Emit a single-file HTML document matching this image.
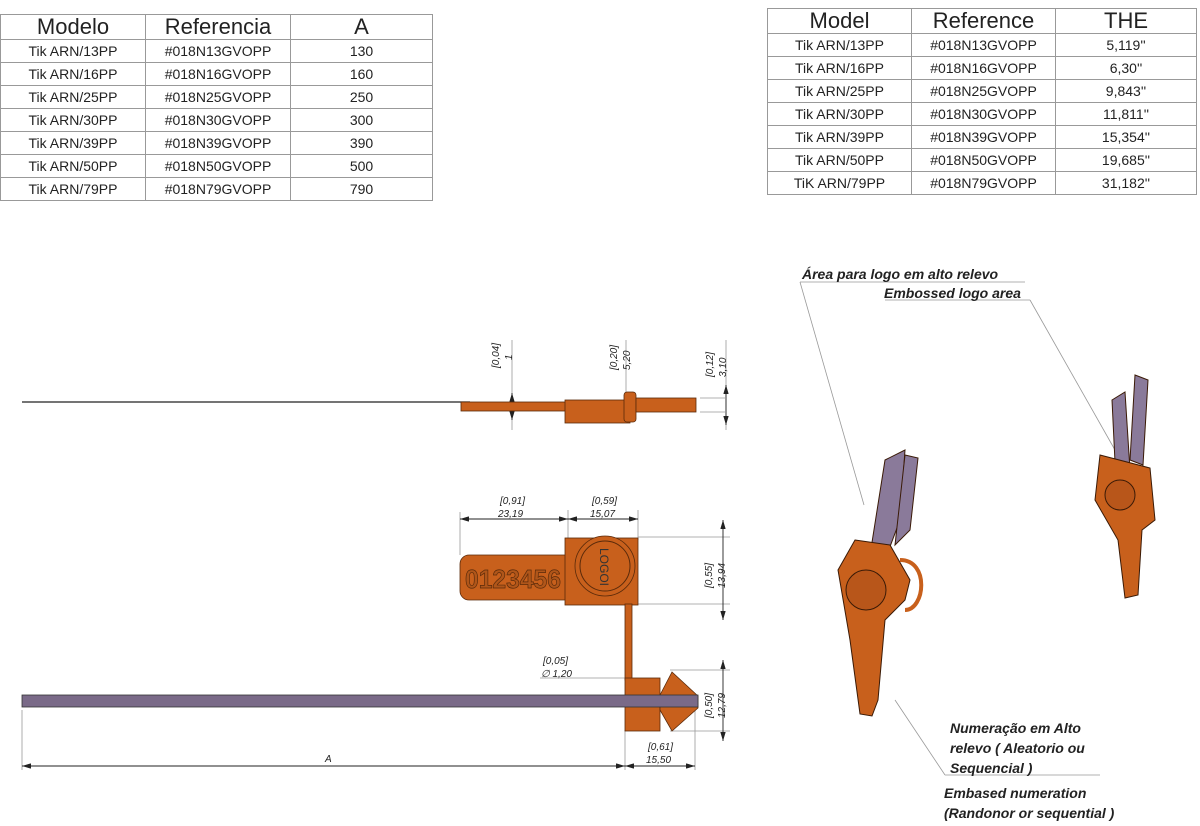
<!DOCTYPE html><html><head><meta charset="utf-8"><style>
body{margin:0;background:#fff;width:1200px;height:826px;overflow:hidden;font-family:"Liberation Sans",sans-serif}
table{position:absolute;border-collapse:collapse;table-layout:fixed}
td{border:1px solid #999;text-align:center;font-size:14px;padding:0;color:#222;height:22px;line-height:20px}
tr.h td{font-size:22px;height:24px;line-height:24px;color:#222}
</style></head><body>
<table style="left:0;top:14px;width:433px"><colgroup><col style="width:145px"><col style="width:145px"><col></colgroup>
<tr class="h"><td>Modelo</td><td>Referencia</td><td>A</td></tr>
<tr><td>Tik ARN/13PP</td><td>#018N13GVOPP</td><td>130</td></tr>
<tr><td>Tik ARN/16PP</td><td>#018N16GVOPP</td><td>160</td></tr>
<tr><td>Tik ARN/25PP</td><td>#018N25GVOPP</td><td>250</td></tr>
<tr><td>Tik ARN/30PP</td><td>#018N30GVOPP</td><td>300</td></tr>
<tr><td>Tik ARN/39PP</td><td>#018N39GVOPP</td><td>390</td></tr>
<tr><td>Tik ARN/50PP</td><td>#018N50GVOPP</td><td>500</td></tr>
<tr><td>Tik ARN/79PP</td><td>#018N79GVOPP</td><td>790</td></tr>
</table>
<table style="left:767px;top:8px;width:430px"><colgroup><col style="width:144px"><col style="width:144px"><col></colgroup>
<tr class="h"><td>Model</td><td>Reference</td><td>THE</td></tr>
<tr><td>Tik ARN/13PP</td><td>#018N13GVOPP</td><td>5,119''</td></tr>
<tr><td>Tik ARN/16PP</td><td>#018N16GVOPP</td><td>6,30''</td></tr>
<tr><td>Tik ARN/25PP</td><td>#018N25GVOPP</td><td>9,843''</td></tr>
<tr><td>Tik ARN/30PP</td><td>#018N30GVOPP</td><td>11,811''</td></tr>
<tr><td>Tik ARN/39PP</td><td>#018N39GVOPP</td><td>15,354''</td></tr>
<tr><td>Tik ARN/50PP</td><td>#018N50GVOPP</td><td>19,685''</td></tr>
<tr><td>TiK ARN/79PP</td><td>#018N79GVOPP</td><td>31,182''</td></tr>
</table>
<svg width="1200" height="826" style="position:absolute;left:0;top:0" font-family="Liberation Sans" font-style="italic" font-size="10" fill="#222">
<defs><marker id="a" viewBox="0 0 10 6" refX="10" refY="3" markerWidth="10" markerHeight="6" orient="auto-start-reverse"><path d="M0,0L10,3L0,6z" fill="#222"/></marker></defs>
<g stroke="#999" stroke-width="0.8" fill="none">
<line x1="512" y1="340" x2="512" y2="430"/><line x1="626" y1="340" x2="626" y2="395"/>
<line x1="700" y1="398" x2="725" y2="398"/><line x1="700" y1="412" x2="725" y2="412"/><line x1="726" y1="340" x2="726" y2="430"/>
<line x1="460" y1="512" x2="460" y2="555"/><line x1="568" y1="510" x2="568" y2="540"/><line x1="638" y1="510" x2="638" y2="540"/>
<line x1="638" y1="537" x2="730" y2="537"/><line x1="620" y1="604" x2="730" y2="604"/>
<line x1="540" y1="678" x2="625" y2="678"/><line x1="670" y1="670" x2="730" y2="670"/><line x1="670" y1="731" x2="730" y2="731"/>
<line x1="625" y1="730" x2="625" y2="770"/><line x1="695" y1="700" x2="695" y2="770"/><line x1="22" y1="710" x2="22" y2="770"/>
<line x1="800" y1="282" x2="864" y2="505"/><line x1="800" y1="282" x2="1025" y2="282"/>
<line x1="1030" y1="300" x2="1115" y2="450"/><line x1="885" y1="300" x2="1030" y2="300"/>
<line x1="895" y1="700" x2="945" y2="775"/><line x1="945" y1="775" x2="1100" y2="775"/>
</g>
<g stroke="#222" stroke-width="0.9" marker-start="url(#a)" marker-end="url(#a)">
<line x1="512" y1="393" x2="512" y2="420"/><line x1="726" y1="385" x2="726" y2="425"/>
<line x1="460" y1="519" x2="568" y2="519"/><line x1="568" y1="519" x2="638" y2="519"/>
<line x1="723" y1="520" x2="723" y2="620"/><line x1="723" y1="660" x2="723" y2="741"/>
<line x1="22" y1="766" x2="625" y2="766"/><line x1="625" y1="766" x2="695" y2="766"/>
</g>
<line x1="22" y1="402" x2="470" y2="402" stroke="#222" stroke-width="1.3"/>
<g fill="#c8601c" stroke="#5a2a0a" stroke-width="0.8">
<rect x="461" y="402" width="110" height="9"/><rect x="565" y="400" width="65" height="23"/>
<rect x="624" y="392" width="12" height="30" rx="3"/><rect x="636" y="398" width="60" height="14"/>
</g>
<g fill="#c8601c" stroke="#5a2a0a" stroke-width="0.8">
<rect x="460" y="555" width="125" height="45" rx="9"/>
<rect x="565" y="538" width="73" height="67"/>
<circle cx="605" cy="566" r="30"/>
<rect x="625" y="604" width="7" height="76"/>
<rect x="625" y="678" width="35" height="53"/>
<path d="M660,695L672,672L698,696L698,708L672,731L660,710z"/>
</g>
<circle cx="605" cy="566" r="25" fill="none" stroke="#5a2a0a"/>
<text x="465" y="588" font-size="26" font-style="normal" font-weight="bold" fill="#b0561a" stroke="#5a2a0a" stroke-width="0.7" textLength="96" lengthAdjust="spacingAndGlyphs">0123456</text>
<text transform="translate(600,548) rotate(90)" font-size="12" font-style="normal" fill="#333">LOGOI</text>
<rect x="22" y="695" width="676" height="12" fill="#7a6a88" stroke="#333" stroke-width="0.8"/>
<text transform="translate(499,368) rotate(-90)">[0,04]</text><text transform="translate(512,360) rotate(-90)">1</text>
<text transform="translate(617,370) rotate(-90)">[0,20]</text><text transform="translate(630,370) rotate(-90)">5,20</text>
<text transform="translate(713,377) rotate(-90)">[0,12]</text><text transform="translate(726,377) rotate(-90)">3,10</text>
<text x="500" y="504">[0,91]</text><text x="498" y="517">23,19</text>
<text x="592" y="504">[0,59]</text><text x="590" y="517">15,07</text>
<text transform="translate(712,588) rotate(-90)">[0,55]</text><text transform="translate(725,588) rotate(-90)">13,94</text>
<text x="543" y="664">[0,05]</text><text x="541" y="677">∅ 1,20</text>
<text transform="translate(712,718) rotate(-90)">[0,50]</text><text transform="translate(725,718) rotate(-90)">12,79</text>
<text x="648" y="750">[0,61]</text><text x="646" y="763">15,50</text>
<text x="325" y="762">A</text>
<g font-weight="bold" font-size="14">
<text x="802" y="279">Área para logo em alto relevo</text><text x="884" y="298">Embossed logo area</text>
<text x="950" y="733">Numeração em Alto</text><text x="950" y="753">relevo ( Aleatorio ou</text><text x="950" y="773">Sequencial )</text>
<text x="944" y="798">Embased numeration</text><text x="944" y="818">(Randonor or sequential )</text>
</g>
<g stroke="#3a1a06" stroke-width="1">
<path d="M885,460L905,450L900,520L885,560L870,555z" fill="#8a7a9a"/>
<path d="M905,455L918,458L910,530L895,545z" fill="#8a7a9a"/>
<path d="M855,540L890,545L910,580L905,600L885,620L878,700L872,716L860,714L850,640L838,570z" fill="#c8601c"/>
<circle cx="866" cy="590" r="20" fill="#b8561a"/>
<path d="M900,560C930,560 925,610 905,610" fill="none" stroke="#c8601c" stroke-width="4"/>
<path d="M1112,400L1125,392L1130,470L1115,462z" fill="#8a7a9a"/>
<path d="M1135,375L1148,380L1143,465L1130,460z" fill="#8a7a9a"/>
<path d="M1100,455L1150,468L1155,520L1142,530L1138,595L1125,598L1118,540L1095,500z" fill="#c8601c"/>
<circle cx="1120" cy="495" r="15" fill="#b8561a"/>
</g>
</svg>
</body></html>
